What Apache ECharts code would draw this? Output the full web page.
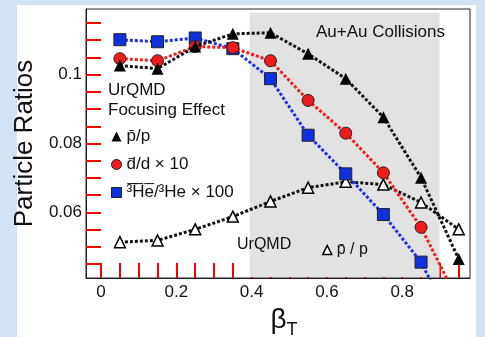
<!DOCTYPE html>
<html>
<head>
<meta charset="utf-8">
<script src="https://cdn.jsdelivr.net/npm/echarts@6/dist/echarts.min.js"></script>
<style>
html,body{margin:0;padding:0;background:#d3e3f3;}
#panel{position:absolute;left:17px;top:5px;width:459px;height:332px;background:#ffffff;}
#chart{position:absolute;left:0;top:0;width:485px;height:337px;}
</style>
</head>
<body>
<div id="panel"></div>
<div id="chart"></div>
<script>
const betaT = [0.05, 0.15, 0.25, 0.35, 0.45, 0.55, 0.65, 0.75, 0.85, 0.95];
const pbarP = [0.1026, 0.1017, 0.1081, 0.1118, 0.1121, 0.1060, 0.0988, 0.0876, 0.0701, 0.0465];
const dbarD10 = [0.1046, 0.1040, 0.1081, 0.1078, 0.1040, 0.0925, 0.0830, 0.0715, 0.0557, 0.034];
const he3bar100 = [0.1101, 0.1095, 0.1106, 0.1075, 0.0988, 0.0824, 0.0712, 0.0594, 0.0456, 0.024];
const pbarPUrqmd = [0.0514, 0.0519, 0.0551, 0.0588, 0.0632, 0.0672, 0.0689, 0.0681, 0.0629, 0.0551];
const xTickLabels = [0, 0.2, 0.4, 0.6, 0.8];
const xMinorTicks = [0, 0.05, 0.1, 0.15, 0.2, 0.25, 0.3, 0.35, 0.4, 0.45, 0.5, 0.55, 0.6, 0.65, 0.7, 0.75, 0.8, 0.85, 0.9, 0.95];
const yTickLabels = [0.06, 0.08, 0.1];
const yMinorTicks = [0.045, 0.05, 0.055, 0.06, 0.065, 0.07, 0.075, 0.08, 0.085, 0.09, 0.095, 0.1, 0.105, 0.11, 0.115];
const shadedBand = [0.395, 0.899];

const nameP = 'p\u0304/p';
const nameD = 'd\u0304/d \u00D7 10';
const nameHe = '\u00B3\u0305H\u0305e\u0305/\u00B3He \u00D7 100';
const nameU = 'p\u0304 / p';

const FONT = 'Liberation Sans, Arial, Helvetica, sans-serif';
const pts = arr => betaT.map((x, i) => [x, arr[i]]);

const chart = echarts.init(document.getElementById('chart'), null, {renderer: 'canvas'});
const dotted = (c) => ({color: c, width: 3, type: [3, 2], cap: 'butt'});

chart.setOption({
  backgroundColor: 'transparent',
  animation: false,
  textStyle: {fontFamily: FONT},
  graphic: [
    {type: 'text', z: 100, left: 316, top: 24, style: {text: 'Au+Au Collisions', font: '17px ' + FONT, fill: '#111'}},
    {type: 'text', z: 100, left: 108, top: 82, style: {text: 'UrQMD', font: '17px ' + FONT, fill: '#111'}},
    {type: 'text', z: 100, left: 108, top: 102, style: {text: 'Focusing Effect', font: '17px ' + FONT, fill: '#111'}},
    {type: 'text', z: 100, left: 237, top: 237, style: {text: 'UrQMD', font: '16px ' + FONT, fill: '#111'}}
  ],
  grid: {left: 86, top: 9, right: 15, bottom: 59, outerBoundsMode: 'none', show: true, borderColor: '#222', borderWidth: 1, backgroundColor: 'transparent'},
  legend: [
    {
      orient: 'vertical', left: 106, top: 123, itemGap: 11, itemWidth: 10, itemHeight: 10,
      textStyle: {fontSize: 17, color: '#111', fontFamily: FONT},
      data: [
        {name: nameP, icon: 'triangle', itemStyle: {color: '#000', borderWidth: 0}},
        {name: nameD, icon: 'circle', itemStyle: {color: '#f01c1c', borderColor: '#222', borderWidth: 1}},
        {name: nameHe, icon: 'rect', itemStyle: {color: '#1030e0', borderColor: '#222', borderWidth: 1}}
      ]
    },
    {
      orient: 'vertical', left: 317, top: 237, itemWidth: 9, itemHeight: 9,
      textStyle: {fontSize: 16, color: '#111', fontFamily: FONT},
      data: [{name: nameU, icon: 'triangle', itemStyle: {color: '#fff', borderColor: '#000', borderWidth: 1.5}}]
    }
  ],
  xAxis: {
    type: 'value', min: -0.04, max: 0.98,
    name: '{b|\u03B2}{s|T}', nameLocation: 'middle', nameGap: 22,
    nameTextStyle: {padding: [0, 0, 0, 12], rich: {b: {fontSize: 28, fontFamily: FONT, color: '#111'}, s: {fontSize: 18, fontFamily: FONT, color: '#111', padding: [20, 0, 0, 0]}}},
    axisLine: {show: true, onZero: false, lineStyle: {color: '#222', width: 1}},
    axisTick: {show: true, inside: true, length: 15, customValues: xMinorTicks, lineStyle: {color: 'red', width: 2}},
    axisLabel: {customValues: xTickLabels, fontSize: 17, color: '#111', margin: 6, fontFamily: FONT},
    splitLine: {show: false}
  },
  yAxis: {
    type: 'value', min: 0.041, max: 0.119,
    name: 'Particle Ratios', nameLocation: 'middle', nameGap: 44,
    nameTextStyle: {fontSize: 26, color: '#111', fontFamily: FONT},
    axisLine: {show: true, onZero: false, lineStyle: {color: '#222', width: 1}},
    axisTick: {show: true, inside: true, length: 15, customValues: yMinorTicks, lineStyle: {color: 'red', width: 2}},
    axisLabel: {customValues: yTickLabels, fontSize: 17, color: '#111', margin: 4, fontFamily: FONT},
    splitLine: {show: false}
  },
  series: [
    {
      name: '__band', type: 'line', data: [], silent: true,
      markArea: {silent: true, itemStyle: {color: '#e2e2e2'}, data: [[{xAxis: shadedBand[0], yAxis: 0.118}, {xAxis: shadedBand[1], yAxis: 0.0413}]]}
    },
    {
      name: nameU, type: 'line', data: pts(pbarPUrqmd), z: 3,
      symbol: 'triangle', symbolSize: 11,
      itemStyle: {color: '#fff', borderColor: '#000', borderWidth: 1.5},
      lineStyle: dotted('#111')
    },
    {
      name: nameHe, type: 'line', data: pts(he3bar100), z: 4,
      symbol: 'rect', symbolSize: 12,
      itemStyle: {color: '#1030e0', borderColor: '#222', borderWidth: 1},
      lineStyle: dotted('#2030e8')
    },
    {
      name: nameD, type: 'line', data: pts(dbarD10), z: 5,
      symbol: 'circle', symbolSize: 12,
      itemStyle: {color: '#f01c1c', borderColor: '#222', borderWidth: 1},
      lineStyle: dotted('#f02020')
    },
    {
      name: nameP, type: 'line', data: pts(pbarP), z: 6,
      symbol: 'triangle', symbolSize: 12,
      itemStyle: {color: '#000', borderWidth: 0},
      lineStyle: dotted('#111')
    }
  ]
});
</script>
</body>
</html>
